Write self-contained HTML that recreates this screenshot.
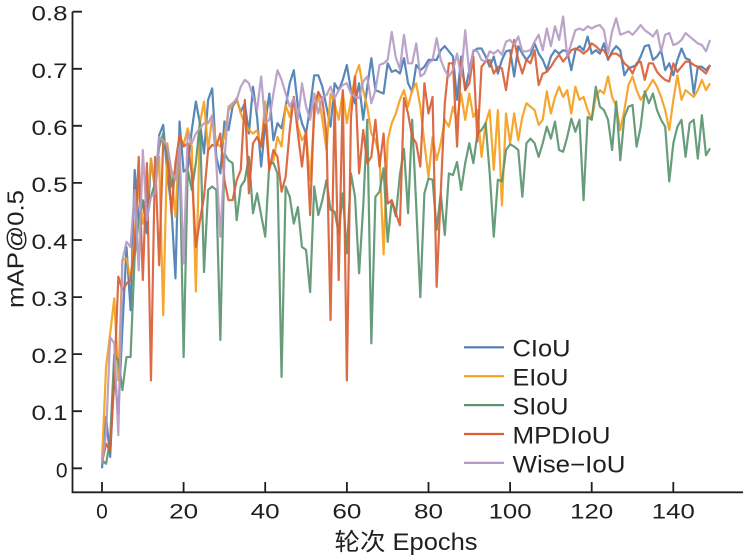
<!DOCTYPE html>
<html><head><meta charset="utf-8"><style>
html,body{margin:0;padding:0;background:#fff;}
svg{display:block;}
text{font-family:"Liberation Sans","Noto Sans CJK SC",sans-serif;fill:#231f20;}
</style></head><body>
<svg width="743" height="559" viewBox="0 0 743 559" xmlns="http://www.w3.org/2000/svg">
<g transform="translate(102,468.3) scale(4.081,-570.4)" fill="none" stroke-width="2.2" stroke-linejoin="round" stroke-opacity="0.92">
<polyline vector-effect="non-scaling-stroke" stroke="#4a7db4" points="0,0 1,.09 2,.02 3,.166 4,.096 5,.245 6,.388 7,.277 8,.523 9,.435 10,.47 11,.412 12,.543 13,.488 14,.584 15,.602 16,.517 17,.458 18,.333 19,.608 20,.52 21,.526 22,.593 23,.643 24,.605 25,.552 26,.646 27,.666 28,.546 29,.517 30,.608 31,.593 32,.634 33,.646 34,.625 35,.64 36,.587 37,.669 38,.616 39,.529 40,.605 41,.657 42,.575 43,.605 44,.596 45,.634 46,.675 47,.698 48,.634 49,.605 50,.587 51,.634 52,.689 53,.689 54,.669 55,.634 56,.599 57,.675 58,.663 59,.681 60,.707 61,.663 62,.64 63,.675 64,.611 65,.669 66,.719 67,.663 68,.66 69,.657 70,.71 71,.695 72,.698 73,.692 74,.719 75,.675 76,.66 77,.707 78,.698 79,.704 80,.716 81,.716 82,.716 83,.733 84,.74 85,.731 86,.722 87,.646 88,.722 89,.663 90,.698 91,.731 92,.736 93,.736 94,.722 95,.704 96,.722 97,.692 98,.716 99,.731 100,.733 101,.687 102,.74 103,.727 104,.716 105,.725 106,.745 107,.727 108,.716 109,.698 110,.722 111,.733 112,.727 113,.733 114,.731 115,.698 116,.733 117,.74 118,.733 119,.757 120,.727 121,.733 122,.727 123,.745 124,.716 125,.731 126,.74 127,.733 128,.689 129,.701 130,.704 131,.707 132,.722 133,.74 134,.742 135,.716 136,.722 137,.733 138,.698 139,.71 140,.689 141,.716 142,.736 143,.719 144,.716 145,.657 146,.704 147,.704 148,.698 149,.707"/>
<polyline vector-effect="non-scaling-stroke" stroke="#f59f1e" points="0,.014 1,.178 2,.236 3,.298 4,.154 5,.365 6,.368 7,.33 8,.406 9,.494 10,.429 11,.458 12,.543 13,.488 14,.546 15,.268 16,.57 17,.517 18,.441 19,.584 20,.567 21,.596 22,.564 23,.31 24,.605 25,.643 26,.558 27,.616 28,.57 29,.564 30,.581 31,.628 32,.637 33,.649 34,.622 35,.605 36,.593 37,.587 38,.593 39,.564 40,.643 41,.529 42,.54 43,.581 44,.564 45,.637 46,.616 47,.651 48,.599 49,.575 50,.587 51,.505 52,.616 53,.657 54,.611 55,.558 56,.657 57,.64 58,.611 59,.66 60,.605 61,.646 62,.687 63,.707 64,.663 65,.634 66,.587 67,.575 68,.546 69,.375 70,.575 71,.605 72,.622 73,.646 74,.663 75,.634 76,.663 77,.675 78,.634 79,.57 80,.511 81,.581 82,.54 83,.57 84,.611 85,.599 86,.634 87,.611 88,.657 89,.611 90,.657 91,.616 92,.628 93,.546 94,.605 95,.628 96,.523 97,.628 98,.461 99,.622 100,.57 101,.622 102,.575 103,.616 104,.64 105,.634 106,.628 107,.602 108,.611 109,.661 110,.622 111,.651 112,.669 113,.651 114,.663 115,.622 116,.669 117,.646 118,.651 119,.628 120,.611 121,.651 122,.663 123,.657 124,.687 125,.651 126,.634 127,.593 128,.628 129,.672 130,.687 131,.663 132,.646 133,.657 134,.669 135,.681 136,.669 137,.651 138,.628 139,.593 140,.646 141,.689 142,.646 143,.663 144,.657 145,.651 146,.663 147,.681 148,.663 149,.675"/>
<polyline vector-effect="non-scaling-stroke" stroke="#5b9570" points="0,.014 1,.008 2,.05 3,.2 4,.189 5,.137 6,.195 7,.195 8,.371 9,.435 10,.467 11,.467 12,.476 13,.5 14,.563 15,.587 16,.54 17,.494 18,.523 19,.563 20,.195 21,.523 22,.488 23,.535 24,.608 25,.344 26,.488 27,.494 28,.488 29,.225 30,.552 31,.54 32,.535 33,.435 34,.494 35,.505 36,.546 37,.447 38,.482 39,.444 40,.406 41,.535 42,.535 43,.517 44,.16 45,.494 46,.476 47,.429 48,.458 49,.388 50,.383 51,.309 52,.494 53,.444 54,.47 55,.505 56,.453 57,.45 58,.412 59,.482 60,.377 61,.517 62,.476 63,.342 64,.458 65,.611 66,.219 67,.476 68,.485 69,.526 70,.397 71,.47 72,.442 73,.515 74,.56 75,.447 76,.611 77,.46 78,.3 79,.482 80,.508 81,.506 82,.418 83,.482 84,.409 85,.517 86,.514 87,.537 88,.488 89,.535 90,.57 91,.535 92,.587 93,.593 94,.605 95,.517 96,.406 97,.506 98,.503 99,.558 100,.568 101,.564 102,.558 103,.476 104,.57 105,.578 106,.57 107,.546 108,.57 109,.599 110,.578 111,.608 112,.558 113,.555 114,.581 115,.613 116,.59 117,.611 118,.47 119,.616 120,.611 121,.669 122,.634 123,.628 124,.611 125,.558 126,.643 127,.54 128,.616 129,.634 130,.637 131,.564 132,.599 133,.661 134,.64 135,.657 136,.628 137,.611 138,.599 139,.503 140,.57 141,.599 142,.611 143,.546 144,.605 145,.611 146,.543 147,.619 148,.549 149,.561"/>
<polyline vector-effect="non-scaling-stroke" stroke="#d95f35" points="0,.01 1,.043 2,.031 3,.154 4,.336 5,.312 6,.324 7,.33 8,.388 9,.546 10,.33 11,.535 12,.154 13,.546 14,.356 15,.573 16,.564 17,.447 18,.535 19,.584 20,.564 21,.57 22,.517 23,.388 24,.435 25,.476 26,.558 27,.567 28,.564 29,.587 30,.505 31,.47 32,.47 33,.505 34,.523 35,.646 36,.482 37,.57 38,.581 39,.564 40,.619 41,.523 42,.558 43,.546 44,.485 45,.511 46,.593 47,.651 48,.587 49,.529 50,.593 51,.444 52,.634 53,.66 54,.646 55,.587 56,.26 57,.646 58,.33 59,.663 60,.154 61,.616 62,.687 63,.517 64,.593 65,.535 66,.546 67,.611 68,.529 69,.587 70,.464 71,.47 72,.447 73,.426 74,.649 75,.622 76,.581 77,.57 78,.529 79,.675 80,.622 81,.651 82,.318 83,.482 84,.64 85,.71 86,.71 87,.564 88,.716 89,.663 90,.675 91,.722 92,.573 93,.704 94,.713 95,.716 96,.692 97,.704 98,.701 99,.663 100,.716 101,.751 102,.716 103,.692 104,.716 105,.71 106,.733 107,.672 108,.692 109,.695 110,.704 111,.716 112,.725 113,.713 114,.722 115,.733 116,.736 117,.733 118,.727 119,.733 120,.745 121,.74 122,.733 123,.733 124,.719 125,.727 126,.727 127,.722 128,.71 129,.704 130,.692 131,.71 132,.713 133,.681 134,.71 135,.71 136,.695 137,.687 138,.681 139,.678 140,.71 141,.695 142,.704 143,.713 144,.713 145,.707 146,.704 147,.698 148,.692 149,.707"/>
<polyline vector-effect="non-scaling-stroke" stroke="#b59bc4" points="0,.01 1,.061 2,.23 3,.219 4,.058 5,.365 6,.397 7,.388 8,.488 9,.347 10,.558 11,.435 12,.476 13,.482 14,.581 15,.575 16,.564 17,.523 18,.505 19,.564 20,.359 21,.587 22,.57 23,.587 24,.596 25,.605 26,.605 27,.619 28,.535 29,.406 30,.54 31,.634 32,.64 33,.646 34,.669 35,.681 36,.675 37,.652 38,.628 39,.687 40,.605 41,.611 42,.657 43,.698 44,.681 45,.657 46,.634 47,.649 48,.611 49,.675 50,.634 51,.611 52,.657 53,.622 54,.651 55,.654 56,.669 57,.649 58,.663 59,.672 60,.675 61,.657 62,.651 63,.649 64,.678 65,.687 66,.64 67,.663 68,.707 69,.71 70,.716 71,.765 72,.72 73,.70 74,.76 75,.71 76,.71 77,.745 78,.687 79,.692 80,.71 81,.716 82,.754 83,.716 84,.698 85,.687 86,.698 87,.727 88,.687 89,.768 90,.692 91,.733 92,.731 93,.716 94,.713 95,.731 96,.727 97,.733 98,.725 99,.748 100,.751 101,.742 102,.757 103,.731 104,.731 105,.733 106,.748 107,.76 108,.733 109,.771 110,.74 111,.775 112,.751 113,.792 114,.722 115,.745 116,.768 117,.771 118,.768 119,.775 120,.771 121,.775 122,.777 123,.768 124,.727 125,.766 126,.789 127,.76 128,.763 129,.766 130,.76 131,.768 132,.777 133,.768 134,.763 135,.757 136,.768 137,.731 138,.76 139,.763 140,.742 141,.745 142,.751 143,.763 144,.757 145,.751 146,.745 147,.742 148,.731 149,.751"/>
</g>
<g stroke="#231f20" stroke-width="1.8" fill="none">
<path d="M72.5,11.7 V492.3 H743"/>
<path d="M72.5,468.3H82 M72.5,411.2H82 M72.5,354.1H82 M72.5,297.1H82 M72.5,240H82 M72.5,182.9H82 M72.5,125.8H82 M72.5,68.8H82 M72.5,11.7H82"/>
<path d="M102,492.3V482 M183.6,492.3V482 M265.2,492.3V482 M346.9,492.3V482 M428.5,492.3V482 M510.1,492.3V482 M591.7,492.3V482 M673.3,492.3V482"/>
</g>
<g font-size="21" text-anchor="end">
<text x="67.5" y="477.3">0</text>
<text x="67.5" y="420.2" textLength="36" lengthAdjust="spacingAndGlyphs">0.1</text>
<text x="67.5" y="363.1" textLength="36" lengthAdjust="spacingAndGlyphs">0.2</text>
<text x="67.5" y="306.1" textLength="36" lengthAdjust="spacingAndGlyphs">0.3</text>
<text x="67.5" y="249" textLength="36" lengthAdjust="spacingAndGlyphs">0.4</text>
<text x="67.5" y="191.9" textLength="36" lengthAdjust="spacingAndGlyphs">0.5</text>
<text x="67.5" y="134.8" textLength="36" lengthAdjust="spacingAndGlyphs">0.6</text>
<text x="67.5" y="77.8" textLength="36" lengthAdjust="spacingAndGlyphs">0.7</text>
<text x="67.5" y="20.7" textLength="36" lengthAdjust="spacingAndGlyphs">0.8</text>
</g>
<g font-size="21" text-anchor="middle">
<text x="102" y="518.5">0</text>
<text x="183.6" y="518.5" textLength="29" lengthAdjust="spacingAndGlyphs">20</text>
<text x="265.2" y="518.5" textLength="29" lengthAdjust="spacingAndGlyphs">40</text>
<text x="346.9" y="518.5" textLength="29" lengthAdjust="spacingAndGlyphs">60</text>
<text x="428.5" y="518.5" textLength="29" lengthAdjust="spacingAndGlyphs">80</text>
<text x="510.1" y="518.5" textLength="43" lengthAdjust="spacingAndGlyphs">100</text>
<text x="591.7" y="518.5" textLength="43" lengthAdjust="spacingAndGlyphs">120</text>
<text x="673.3" y="518.5" textLength="43" lengthAdjust="spacingAndGlyphs">140</text>
</g>
<text x="334.5" y="550" font-size="24" textLength="143" lengthAdjust="spacingAndGlyphs">轮次 Epochs</text>
<text transform="translate(23.5,249) rotate(-90)" font-size="23" text-anchor="middle" textLength="118" lengthAdjust="spacingAndGlyphs">mAP@0.5</text>
<g stroke-width="2.2">
<line x1="464" y1="347.3" x2="504" y2="347.3" stroke="#4a7db4"/>
<line x1="464" y1="376.2" x2="504" y2="376.2" stroke="#f59f1e"/>
<line x1="464" y1="405.1" x2="504" y2="405.1" stroke="#5b9570"/>
<line x1="464" y1="434" x2="504" y2="434" stroke="#d95f35"/>
<line x1="464" y1="462.9" x2="504" y2="462.9" stroke="#b59bc4"/>
</g>
<g font-size="24">
<text x="512.5" y="356.7" textLength="58" lengthAdjust="spacingAndGlyphs">CIoU</text>
<text x="512.5" y="385.5" textLength="56" lengthAdjust="spacingAndGlyphs">EIoU</text>
<text x="512.5" y="414.5" textLength="56" lengthAdjust="spacingAndGlyphs">SIoU</text>
<text x="512.5" y="443.5" textLength="98" lengthAdjust="spacingAndGlyphs">MPDIoU</text>
<text x="512.5" y="472.3" textLength="113" lengthAdjust="spacingAndGlyphs">Wise−IoU</text>
</g>
</svg>
</body></html>
